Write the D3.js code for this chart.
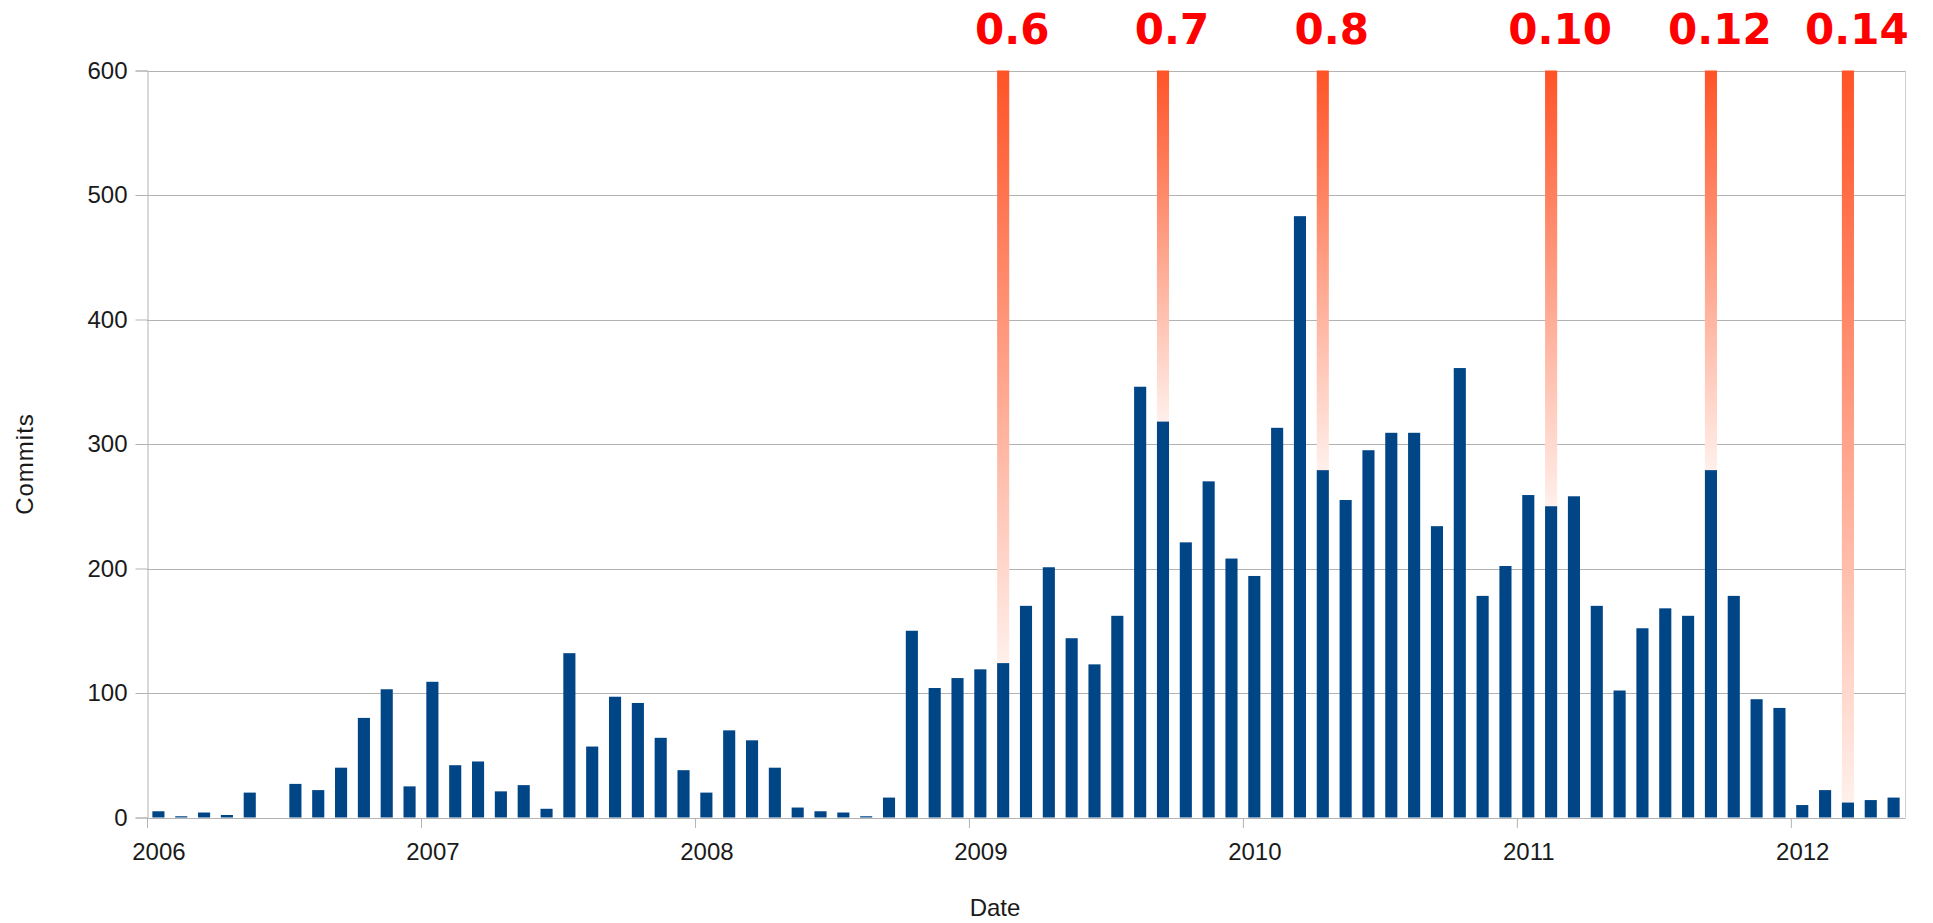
<!DOCTYPE html>
<html>
<head>
<meta charset="utf-8">
<script src="https://cdn.jsdelivr.net/npm/d3@7"></script>
<style>
  body { margin: 0; background: #fff; }
  text { font-family: "Liberation Sans", Arial, sans-serif; fill: #1a1a1a; }
</style>
</head>
<body>
<svg id="chart" width="1933" height="923"></svg>
<script>
// monthly commit counts, Jan 2006 .. May 2012
const years = [2006, 2007, 2008, 2009, 2010, 2011, 2012];
const commits = [
  5, 1, 4, 2, 20, 0, 27, 22, 40, 80, 103, 25,           // 2006
  109, 42, 45, 21, 26, 7, 132, 57, 97, 92, 64, 38,      // 2007
  20, 70, 62, 40, 8, 5, 4, 1, 16, 150, 104, 112,        // 2008
  119, 124, 170, 201, 144, 123, 162, 346, 318, 221, 270, 208, // 2009
  194, 313, 483, 279, 255, 295, 309, 309, 234, 361, 178, 202, // 2010
  259, 250, 258, 170, 102, 152, 168, 162, 279, 178, 95, 88,   // 2011
  10, 22, 12, 14, 16                                    // 2012
];
const yTicks = [0, 100, 200, 300, 400, 500, 600];

// releases and the month they landed in
const releases = ["0.6", "0.7", "0.8", "0.10", "0.12", "0.14"];
const releaseMonths = ["2009-02", "2009-09", "2010-04", "2011-02", "2011-09", "2012-03"];

const plotLeft = 147, plotRight = 1905, plotTop = 70.5, plotBottom = 817.5;

const svg = d3.select("#chart");

// month keys for each bar ("2006-01" ...)
const months = commits.map(function (c, i) {
  const yr = years[0] + Math.floor(i / 12);
  const m = (i % 12) + 1;
  return yr + "-" + (m < 10 ? "0" + m : m);
});

const x = d3.scaleBand().domain(months).range([plotLeft, plotRight]).paddingInner(0.47).paddingOuter(0.235);
const xIdx = d3.scaleLinear().domain([0, months.length]).range([plotLeft, plotRight]); // for the year ticks
const y = d3.scaleLinear().domain([0, 600]).range([plotBottom, plotTop]);
const slot = (plotRight - plotLeft) / months.length;

// gradient for the release stripes
const grad = svg.append("defs").append("linearGradient")
  .attr("id", "rel")
  .attr("x1", 0).attr("y1", 0).attr("x2", 0).attr("y2", 1);
grad.append("stop").attr("offset", "0%").attr("stop-color", "#ff5326");
grad.append("stop").attr("offset", "100%").attr("stop-color", "#fff0eb");

// gridlines
svg.append("g")
  .selectAll("line")
  .data(yTicks)
  .enter()
  .append("line")
  .attr("x1", plotLeft).attr("x2", plotRight)
  .attr("y1", d => Math.round(y(d)) + 0.5).attr("y2", d => Math.round(y(d)) + 0.5)
  .style("stroke", "#b3b3b3")
  .style("stroke-width", 1);

// right wall border
svg.append("line")
  .attr("x1", plotRight + 0.5).attr("x2", plotRight + 0.5)
  .attr("y1", plotTop).attr("y2", plotBottom)
  .style("stroke", "#cfcfcf");

// release stripes, from the top of the plot down to that month's bar
svg.append("g")
  .selectAll("rect")
  .data(releaseMonths)
  .enter()
  .append("rect")
  .attr("x", d => x(d))
  .attr("width", x.bandwidth())
  .attr("y", y(600))
  .attr("height", d => y(commits[months.indexOf(d)]) - y(600))
  .style("fill", "url(#rel)");

// commit bars
svg.append("g")
  .selectAll("rect")
  .data(commits)
  .enter()
  .append("rect")
  .attr("x", (d, i) => x(months[i]))
  .attr("width", x.bandwidth())
  .attr("y", d => y(d))
  .attr("height", d => plotBottom - y(d))
  .style("fill", "#004586");

// y axis
const yAxis = svg.append("g")
  .attr("transform", "translate(" + (plotLeft + 0.5) + ",0)")
  .call(d3.axisLeft(y).tickValues(yTicks).tickSize(12).tickPadding(8));
yAxis.select(".domain").style("stroke", "#b3b3b3");
yAxis.selectAll(".tick line").style("stroke", "#b3b3b3");
yAxis.selectAll("text")
  .style("font-family", "Liberation Sans")
  .style("font-size", "24px")
  .style("fill", "#1a1a1a");

// x axis: ticks at the start of each year, labels in the middle of January
const xAxis = svg.append("g")
  .attr("transform", "translate(0," + (plotBottom + 0.5) + ")")
  .call(d3.axisBottom(xIdx)
    .tickValues(years.map((yr, i) => i * 12))
    .tickFormat((d, i) => years[i])
    .tickSize(10)
    .tickSizeOuter(0));
xAxis.select(".domain").style("stroke", "#b3b3b3");
xAxis.selectAll(".tick line").style("stroke", "#b3b3b3");
xAxis.selectAll("text")
  .attr("x", slot / 2)
  .attr("y", 25)
  .style("font-family", "Liberation Sans")
  .style("font-size", "24px")
  .style("fill", "#1a1a1a");

// axis titles
svg.append("text")
  .attr("x", 995).attr("y", 916)
  .attr("text-anchor", "middle")
  .style("font-size", "24px")
  .text("Date");

svg.append("text")
  .attr("transform", "translate(33,464) rotate(-90)")
  .attr("text-anchor", "middle")
  .style("font-size", "24px")
  .style("letter-spacing", "1px")
  .text("Commits");

// release labels
svg.append("g")
  .selectAll("text")
  .data(releases)
  .enter()
  .append("text")
  .attr("x", (d, i) => x(releaseMonths[i]) + x.bandwidth() / 2 + 9)
  .attr("y", 44)
  .attr("text-anchor", "middle")
  .style("font-family", "DejaVu Sans")
  .style("font-weight", "bold")
  .style("font-size", "42px")
  .style("fill", "#ff0000")
  .text(d => d);
</script>
</body>
</html>
